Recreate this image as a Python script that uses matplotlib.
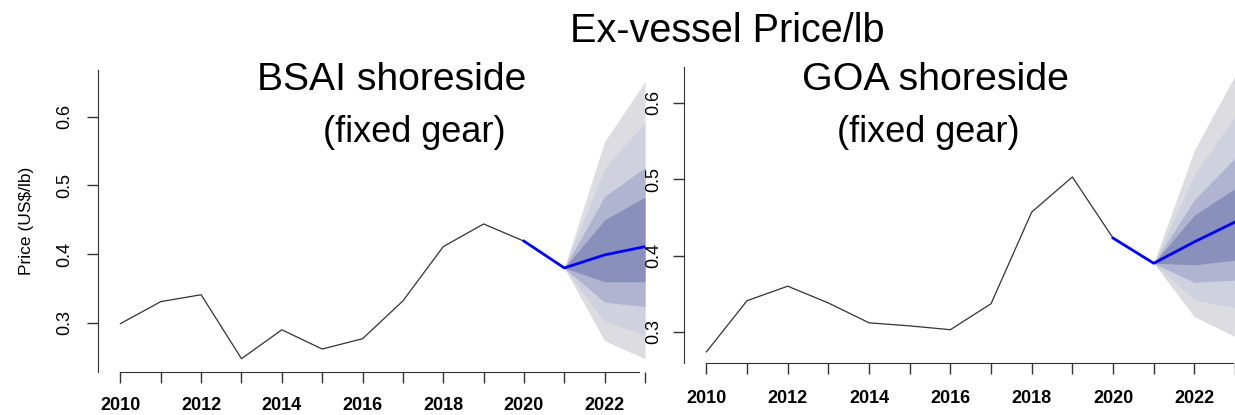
import matplotlib.pyplot as plt
from matplotlib import font_manager
import numpy as np

W, H = 1235, 415

# --- data ---
years = list(range(2010, 2021))
bsai_price = [0.299, 0.331, 0.341, 0.248, 0.290, 0.262, 0.277, 0.332, 0.411, 0.444, 0.419]
goa_price = [0.274, 0.341, 0.360, 0.338, 0.312, 0.308, 0.303, 0.337, 0.457, 0.503, 0.423]

fc_years = [2020, 2021, 2022, 2023]
bsai_fc = [0.419, 0.380, 0.399, 0.411]
goa_fc = [0.423, 0.390, 0.418, 0.444]

fan_years = [2021, 2022, 2023]
# bands from inner to outer
bsai_up = [[0.380, 0.450, 0.483],
           [0.380, 0.484, 0.526],
           [0.380, 0.525, 0.592],
           [0.380, 0.564, 0.651]]
bsai_lo = [[0.380, 0.360, 0.360],
           [0.380, 0.330, 0.324],
           [0.380, 0.302, 0.282],
           [0.380, 0.274, 0.248]]
goa_up = [[0.390, 0.453, 0.488],
          [0.390, 0.473, 0.528],
          [0.390, 0.506, 0.583],
          [0.390, 0.538, 0.636]]
goa_lo = [[0.390, 0.388, 0.394],
          [0.390, 0.365, 0.368],
          [0.390, 0.342, 0.332],
          [0.390, 0.320, 0.294]]

fan_colors = ['#8990BC', '#B0B4D0', '#CFD2DE', '#DCDCE1']
ytick_vals = [0.3, 0.4, 0.5, 0.6]

names = {f.name for f in font_manager.fontManager.ttflist}
narrow = 'Liberation Sans Narrow' if 'Liberation Sans Narrow' in names else 'Liberation Sans'
plt.rcParams['font.family'] = ['Liberation Sans', 'DejaVu Sans']

fig = plt.figure(figsize=(W / 100, H / 100), dpi=100)


def px_axes(x0, x1, y0, y1):
    return fig.add_axes([x0 / W, 1 - y1 / H, (x1 - x0) / W, (y1 - y0) / H])


def panel(ax, price, fc, up, lo, xlim, ylim, ylab_pad, xlab_pad):
    for k in range(len(up) - 1, -1, -1):
        ax.fill_between(fan_years, lo[k], up[k], color=fan_colors[k], lw=0)
    ax.plot(years, price, color='#333333', lw=0.9)
    ax.plot(fc_years, fc, color='#0000FF', lw=2)
    ax.set_xlim(*xlim)
    ax.set_ylim(*ylim)
    for s in ['top', 'right']:
        ax.spines[s].set_visible(False)
    ax.spines['left'].set_color('#333333')
    ax.spines['bottom'].set_color('#333333')
    ax.spines['bottom'].set_bounds(2010, xlim[1])
    xt = list(range(2010, 2024))
    ax.set_xticks(xt)
    ax.set_xticklabels([str(y) if y % 2 == 0 else '' for y in xt],
                       fontsize=13, fontweight='bold')
    ax.set_yticks(ytick_vals)
    ax.set_yticklabels([str(v) for v in ytick_vals], rotation=90, va='center',
                       fontsize=13)
    ax.tick_params(axis='x', length=8, width=1, color='#333333', pad=xlab_pad)
    ax.tick_params(axis='y', length=8, width=1, color='#333333', pad=ylab_pad)
    ax.patch.set_alpha(0)


ax1 = px_axes(98, 645, 70, 372)
panel(ax1, bsai_price, bsai_fc, bsai_up, bsai_lo,
      (2009.444, 2022.85), (0.2286, 0.668), 10, 10)
ax1.set_ylabel('Price (US$/lb)', fontsize=12.5, labelpad=15.5)

ax2 = px_axes(684, 1235, 67, 363)
panel(ax2, goa_price, goa_fc, goa_up, goa_lo,
      (2009.449, 2022.94), (0.2594, 0.647), 8, 11.5)

fig.text(727 / W, 1 - 31 / H, 'Ex-vessel Price/lb', family=narrow, fontsize=28.5,
         ha='center', va='center')
fig.text(392 / W, 1 - 80 / H, 'BSAI shoreside', family=narrow, fontsize=28.2,
         ha='center', va='center')
fig.text(414 / W, 1 - 132 / H, '(fixed gear)', family=narrow, fontsize=26,
         ha='center', va='center')
fig.text(935 / W, 1 - 80 / H, 'GOA shoreside', family=narrow, fontsize=28.4,
         ha='center', va='center')
fig.text(928 / W, 1 - 132 / H, '(fixed gear)', family=narrow, fontsize=26,
         ha='center', va='center')

fig.savefig('out.png', dpi=100)
